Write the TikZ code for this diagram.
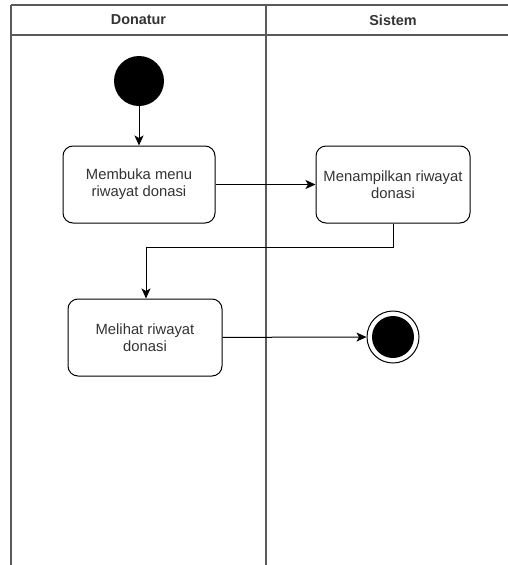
\documentclass[tikz,border=0pt]{standalone}
\usepackage{fontspec}
\setmainfont{Liberation Sans}
\usetikzlibrary{arrows.meta,positioning}
\definecolor{lanecol}{HTML}{5A5A5A}
\definecolor{txtcol}{HTML}{333333}
\tikzset{
  lane/.style={draw=lanecol, line width=1.4pt},
  action/.style={draw=black, line width=1pt, rounded corners=10pt, fill=white,
    minimum width=152pt, minimum height=77pt, align=center, text=txtcol,
    font=\fontsize{14.8}{17}\selectfont, inner sep=2pt},
  flow/.style={draw=black, line width=1pt, -{Stealth[length=10pt,width=9pt,inset=2.5pt]}},
  lanetitle/.style={font=\fontsize{14.4}{16}\selectfont\bfseries, text=txtcol}
}
\begin{document}
\begin{tikzpicture}[x=1pt,y=-1pt]
  \useasboundingbox (0,0) rectangle (508,565);
  \clip (0,0) rectangle (508,565);
  \fill[white] (0,0) rectangle (508,565);
  % swimlane frame
  \draw[lane] (11,5) -- (520,5);
  \draw[lane] (11,35) -- (520,35);
  \draw[lane] (11,5) -- (11,580);
  \draw[lane] (266,5) -- (266,580);
  \node[lanetitle] (donatur) at (138.5,20) {Donatur};
  \node[lanetitle] (sistem) at (393,20) {Sistem};
  % activity nodes
  \node[circle, fill=black, minimum size=50pt, inner sep=0pt] (start) at (139,81) {};
  \node[action] (a1) at (139,184.5) {Membuka menu\\riwayat donasi};
  \node[action, minimum width=154pt] (a2) at (393,184.5) {Menampilkan riwayat\\donasi};
  \node[action, minimum width=154pt] (a3) at (145,337.5) {Melihat riwayat\\donasi};
  \node[circle, draw=black, line width=1pt, fill=white, minimum size=52pt, inner sep=0pt] (end) at (393,337) {};
  \node[circle, fill=black, minimum size=42pt, inner sep=0pt] (endin) at (end) {};
  % control flow
  \draw[flow] (start) -- (a1);
  \draw[flow] (a1) -- (a2);
  \coordinate (b1) at (393,247);
  \coordinate (b2) at (146,247);
  \draw[flow] (a2.south) -- (b1) -- (b2) -- (a3.north -| b2);
  \draw[flow] (a3) -- (end);
\end{tikzpicture}
\end{document}
